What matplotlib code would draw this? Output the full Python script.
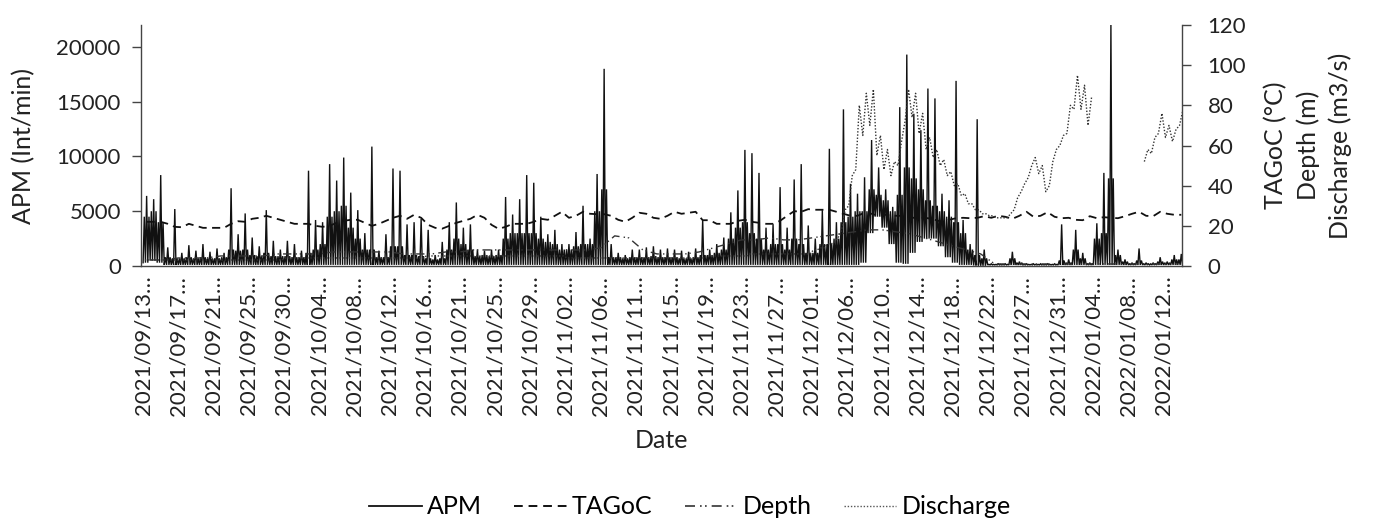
import numpy as np
import matplotlib
matplotlib.use("Agg")
import matplotlib.pyplot as plt
from matplotlib.lines import Line2D

plt.rcParams['font.family'] = ['Lato', 'DejaVu Sans']

# ---- category labels (one every 100 hourly records; 20 records per bin) ----
date_labels = ["2021/09/13", "2021/09/17", "2021/09/21", "2021/09/25", "2021/09/30",
               "2021/10/04", "2021/10/08", "2021/10/12", "2021/10/16", "2021/10/21",
               "2021/10/25", "2021/10/29", "2021/11/02", "2021/11/06", "2021/11/11",
               "2021/11/15", "2021/11/19", "2021/11/23", "2021/11/27", "2021/12/01",
               "2021/12/06", "2021/12/10", "2021/12/14", "2021/12/18", "2021/12/22",
               "2021/12/27", "2021/12/31", "2022/01/04", "2022/01/08", "2022/01/12"]

# ---- APM (Int/min): per 20-record bin, maximum / typical upper level / minimum ----
apm_peak = [6400, 6100, 8300, 1700, 5200,  1200, 1900, 1400, 2000, 1300,
            1600, 1200, 7100, 2900, 4800,  2600, 1800, 5100, 2300, 1500,
            2300, 2000, 1400, 8700, 4200,  4000, 9300, 7800, 9900, 6700,
            5100, 3000, 10900, 1400, 2900, 8900, 8700, 3800, 4000, 4300,
            3300, 1000, 2200, 4000, 5800,  3500, 3800, 1500, 1400, 1500,
            1500, 6300, 4700, 6100, 8300,  7600, 4500, 2900, 3300, 2000,
            2000, 3100, 5500, 2500, 8400,  18000, 2000, 1200, 1000, 1500,
            1500, 1700, 1800, 1500, 1600,  1500, 1400, 1300, 1600, 4200,
            1500, 2000, 2600, 4900, 6900,  10600, 10300, 8500, 3500, 3800,
            7200, 3500, 7900, 9300, 3700,  2500, 5100, 10700, 4000, 14300,
            7500, 6600, 8100, 11500, 9000, 7000, 5400, 14500, 19300, 13900,
            12400, 16200, 15300, 6600, 6000, 16900, 4200, 2000, 13400, 1500,
            200, 200, 200, 1300, 400,      200, 200, 200, 200, 200,
            3800, 600, 3300, 1200, 300,    3900, 8500, 22000, 1500, 600,
            300, 1600, 300, 300, 800,      400, 1000, 1100]
apm_band = [4500, 5000, 4000, 800, 700,   700, 800, 700, 800, 700,
            700, 800, 1500, 1400, 1500,   1000, 900, 1200, 900, 900,
            900, 800, 800, 1200, 1500,    2000, 4500, 5000, 5500, 3500,
            2500, 1500, 1500, 800, 800,   1800, 1800, 1000, 1000, 900,
            700, 600, 700, 1500, 2500,    2000, 1500, 900, 1000, 900,
            1000, 2500, 3000, 3000, 3000, 3000, 2500, 2200, 2000, 1500,
            1500, 1800, 2000, 2000, 5000, 7000, 800, 800, 700, 800,
            800, 800, 900, 800, 800,      800, 700, 700, 800, 1000,
            1000, 1200, 1500, 2500, 3500, 4000, 3000, 2500, 1500, 2000,
            2000, 1500, 2500, 2000, 1200, 1200, 2000, 2000, 2500, 4000,
            4500, 5000, 5000, 7000, 6500, 6000, 5000, 6500, 9000, 8000,
            7000, 6000, 5500, 5000, 4500, 4000, 3000, 1500, 1000, 700,
            150, 150, 150, 700, 300,      150, 150, 150, 150, 150,
            500, 300, 1500, 700, 200,     2500, 3000, 8000, 1000, 400,
            200, 500, 200, 200, 400,      300, 600, 600]
apm_floor = [300, 500, 300, 100, 100] + [100] * 95 + \
            [100, 100, 300, 3000, 4500, 3500, 2000, 300, 200, 1200,
             2200, 2500, 2500, 1800, 800,  300, 100, 100, 50, 20] + [100] * 28

# ---- TAGoC (°C), per bin ----
tagoc = [22, 22, 22, 21, 19.5, 19.3, 21, 20, 19, 19,
         19, 19, 21, 22.3, 22, 23.5, 24, 25, 24, 23,
         22, 21, 21, 21, 20, 19.5, 20, 21.5, 22.5, 23,
         23, 21.5, 20, 21, 22.5, 24, 25, 23.5, 25.5, 24,
         20.5, 19, 18.6, 20, 21.5, 22.5, 23.5, 25.5, 24, 20.5,
         18.5, 19.5, 21, 21, 21, 22, 23.5, 23, 25, 27,
         24, 25, 27, 26, 25.8, 25.8, 25, 23, 22, 24,
         26.5, 26, 24, 23.5, 25, 27, 26, 26.5, 27, 22.8,
         22.8, 21, 21, 21, 22.5, 23, 22, 21.5, 21, 21,
         22.5, 25, 27.3, 27, 28.3, 28, 28, 28, 27, 26,
         25, 25, 26.5, 26, 25, 25.5, 25, 25, 24.5, 24,
         24, 23.8, 23, 22, 23, 23.8, 24, 23.8, 24, 24.8,
         24, 25, 24.5, 23.5, 25, 27, 24.5, 25, 26.8, 24.5,
         23.8, 24, 23, 22.8, 24.8, 23.8, 24.3, 24, 23.8, 24.8,
         26, 27, 25, 24.8, 27, 26, 25.5, 25.5]

# ---- Depth (m), one value per two bins ----
depth = [3, 3, 4, 4, 4, 5, 5, 5, 5, 6,
         6, 6, 6, 7, 7, 7, 7, 7, 6, 6,
         6, 7, 7, 8, 8, 8, 8, 8, 8, 8,
         8, 8, 9, 15, 14, 8, 6, 6, 6, 7,
         9, 11, 13, 13, 14, 13, 13, 14, 15, 16,
         17, 18, 18, 17, 16, 14, 12, 10, 8, 6,
         1, 1, 1, 1, 1, 1, 1, 1, 1, 1, 1, 1, 1, 1]

# ---- Discharge (m3/s), per bin low / high ----
nan = np.nan
dis_lo = [3] * 20 + [4] * 20 + [5] * 20 + [4] * 20 + \
         [5, 5, 5, 5, 5, 5, 6, 6, 6, 6, 6, 6, 6, 6, 6, 8, 9, 11,
          12, 18, 30, 48, 65, 70, 55, 48, 45, 50, 72, 74, 66, 58, 54, 50, 45, 40, 35, 31, 28, 26,
          25, 24, 24, 26, 34, 41, 50, 46, 37, 52, 60, 66, 78, 78, 70,
          nan, nan, nan, nan, nan, nan, nan, 52, 56, 66, 64, 62, 70]
dis_hi = [3] * 20 + [4] * 20 + [5] * 20 + [4] * 20 + \
         [5, 5, 5, 5, 5, 5, 6, 6, 6, 6, 6, 6, 6, 6, 6, 8, 9, 11,
          14, 28, 45, 80, 86, 88, 65, 58, 52, 62, 88, 86, 76, 64, 58, 53, 47, 41, 36, 31, 28, 26,
          25, 24, 24, 28, 37, 44, 54, 50, 40, 58, 65, 80, 95, 90, 84,
          nan, nan, nan, nan, nan, nan, nan, 58, 64, 76, 70, 68, 78]

# ---------------- build plotting sequences ----------------
nb = len(apm_peak)
sub = np.array([0, 1, 2, 3, 4, 5]) / 6.0
apm_x, apm_y = [], []
for k in range(nb):
    vals = [apm_floor[k], apm_band[k], apm_floor[k], apm_peak[k], apm_floor[k], apm_band[k]]
    apm_x.extend(k + sub)
    apm_y.extend(vals)

dis_x, dis_y = [], []
for k in range(len(dis_lo)):
    dis_x.extend([k + 0.25, k + 0.75])
    dis_y.extend([dis_lo[k], dis_hi[k]])

tag_x = np.arange(len(tagoc)) + 0.5
dep_x = np.arange(len(depth)) * 2 + 1.0

# ---------------- figure ----------------
W, H = 1374, 523
fig = plt.figure(figsize=(W / 100, H / 100), dpi=100)
ax = fig.add_axes([141 / W, 257 / H, 1041 / W, 241 / H])
ax2 = ax.twinx()

black = '#111111'
tag_ls = (0, (4.5, 3))
dep_ls = (0, (6, 3, 1, 2, 1, 3))
dis_ls = (0, (1, 1.3))
ax.plot(apm_x, apm_y, color=black, lw=1.0, solid_joinstyle='miter')
ax2.plot(tag_x, tagoc, color=black, lw=1.3, ls=tag_ls)
ax2.plot(dep_x, depth, color='#333333', lw=1.0, ls=dep_ls)
ax2.plot(dis_x, dis_y, color='#333333', lw=1.0, ls=dis_ls)

ax.set_xlim(-0.3, 147.6)
ax.set_ylim(0, 22000)
ax2.set_ylim(0, 120)
ax.set_yticks([0, 5000, 10000, 15000, 20000])
ax2.set_yticks([0, 20, 40, 60, 80, 100, 120])

ax.set_xticks(np.arange(len(date_labels)) * 5)
ax.set_xticklabels([d + "…" for d in date_labels], rotation=90, va='top', ha='center')

fs_tick = 16
fs_lab = 18
txt = '#222222'
for a in (ax, ax2):
    a.spines['top'].set_visible(False)
    for s in a.spines.values():
        s.set_color('#444444')
        s.set_linewidth(1.0)
ax.spines['right'].set_visible(False)
ax2.spines['left'].set_visible(False)
ax2.spines['bottom'].set_visible(False)

ax.tick_params(axis='y', labelsize=fs_tick, length=6.5, width=1, color='#444444', pad=8, labelcolor=txt)
ax.tick_params(axis='x', labelsize=fs_tick, length=0, pad=7, labelcolor=txt)
ax2.tick_params(axis='y', labelsize=fs_tick, length=6.5, width=1, color='#444444', pad=12, labelcolor=txt)

ax.set_ylabel("APM (Int/min)", fontsize=fs_lab, color=txt, labelpad=15)
ax.set_xlabel("Date", fontsize=fs_lab, color=txt, labelpad=10)
ax2.set_ylabel("TAGoC (°C)\nDepth (m)\nDischarge (m3/s)", fontsize=fs_lab, color=txt,
               linespacing=1.45, labelpad=13)

handles = [Line2D([], [], color=black, lw=1.3, ls='-'),
           Line2D([], [], color=black, lw=1.4, ls=tag_ls),
           Line2D([], [], color='#333333', lw=1.2, ls=dep_ls),
           Line2D([], [], color='#555555', lw=1.0, ls=dis_ls)]
fig.legend(handles, ["APM", "TAGoC", "Depth", "Discharge"], loc='center',
           bbox_to_anchor=(690 / W, 1 - 507 / H), ncol=4, frameon=False, fontsize=fs_lab,
           handlelength=2.1, handletextpad=0.2, columnspacing=1.3)

fig.savefig("out.png", dpi=100)
